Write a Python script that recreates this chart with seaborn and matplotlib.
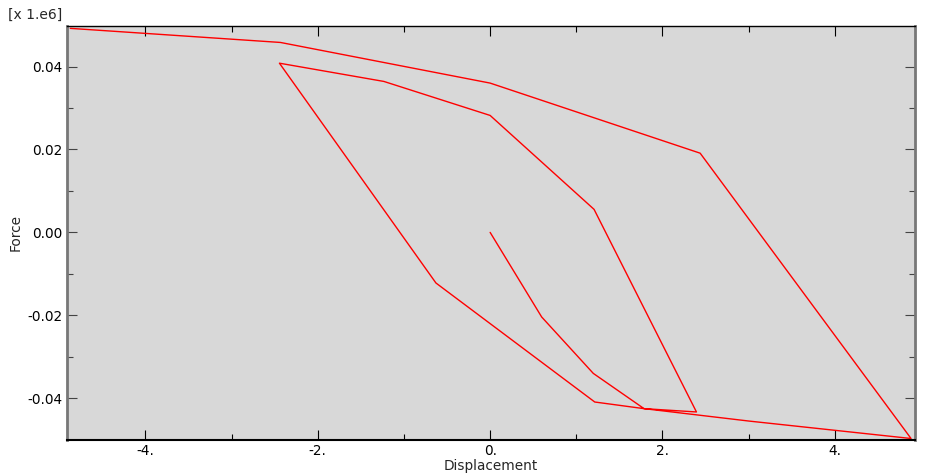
import matplotlib
matplotlib.use("Agg")
import matplotlib.pyplot as plt
from matplotlib.ticker import MultipleLocator
import seaborn as sns
import pandas as pd

displacement = [0.0, 0.598, 1.197, 1.786, 2.394, 1.206, 0.0, -1.233, -2.445,
                -0.629, 1.214, 1.786, 3.006, 4.884, 2.437, 0.0, -2.433, -4.872]
force = [0.0, -0.0204, -0.0340, -0.0425, -0.0433, 0.00555, 0.0282, 0.0364, 0.0408,
         -0.0122, -0.0409, -0.0425, -0.0455, -0.0497, 0.0191, 0.0360, 0.0458, 0.0492]
x_ticks = [-4, -2, 0, 2, 4]
x_tick_labels = ["-4.", "-2.", "0.", "2.", "4."]
y_ticks = [-0.04, -0.02, 0.0, 0.02, 0.04]
y_tick_labels = ["-0.04", "-0.02", "0.00", "0.02", "0.04"]

df = pd.DataFrame({"Displacement": displacement, "Force": force})

sns.set_style("ticks")
plt.rcParams["font.family"] = ["DejaVu Sans"]

fig = plt.figure(figsize=(9.26, 4.74), dpi=100)
ax = fig.add_axes([67 / 926, 1 - 439.5 / 474, (915 - 67) / 926, (439.5 - 25.7) / 474])
ax.set_facecolor("#d8d8d8")

sns.lineplot(data=df, x="Displacement", y="Force", sort=False, estimator=None,
             color="#ff0000", linewidth=1.0, ax=ax)

ax.set_xlim(-4.91, 4.93)
ax.set_ylim(-0.04994, 0.04984)
ax.set_xticks(x_ticks)
ax.set_xticklabels(x_tick_labels)
ax.set_yticks(y_ticks)
ax.set_yticklabels(y_tick_labels)
ax.xaxis.set_minor_locator(MultipleLocator(1))
ax.yaxis.set_minor_locator(MultipleLocator(0.01))

ax.tick_params(which="both", direction="in", top=True, right=True,
               bottom=True, left=True, labelsize=9.8, colors="black",
               pad=3)
ax.tick_params(which="major", length=7, width=0.8)
ax.tick_params(which="minor", length=4, width=0.8)
ax.tick_params(axis="y", which="both", color="#444444")

for side in ["left", "right"]:
    ax.spines[side].set_color("#777777")
    ax.spines[side].set_linewidth(2.0)
ax.spines["bottom"].set_color("black")
ax.spines["bottom"].set_linewidth(1.5)
ax.spines["top"].set_color("black")
ax.spines["top"].set_linewidth(1.0)

ax.set_xlabel("Displacement", fontsize=9.8, labelpad=1)
ax.set_ylabel("Force", fontsize=9.8, labelpad=4)
fig.text(8 / 926, 1 - 15 / 474, "[x 1.e6]", fontsize=10, va="center", ha="left")

fig.savefig("out.png", dpi=100, facecolor="white")
